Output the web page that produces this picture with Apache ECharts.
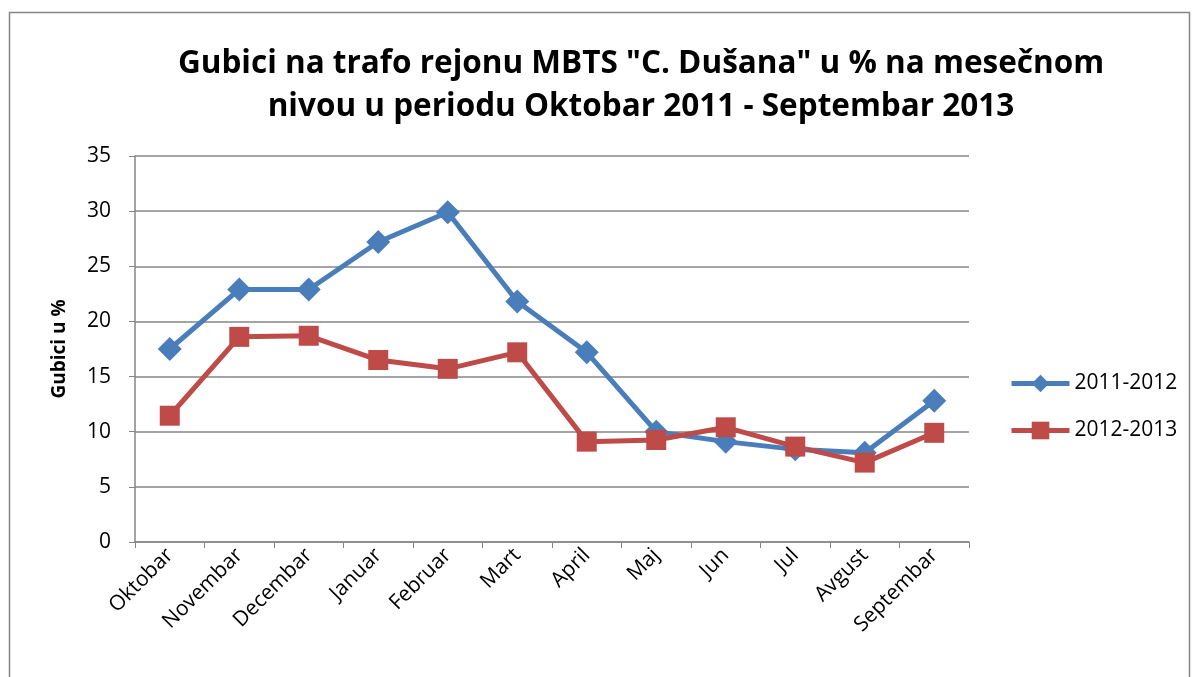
<!DOCTYPE html>
<html><head><meta charset="utf-8">
<script src="https://cdn.jsdelivr.net/npm/echarts@6/dist/echarts.min.js"></script>
<style>html,body{margin:0;padding:0;background:#fff}#c{width:1200px;height:677px}</style>
</head><body><div id="c"></div>
<script>
const categories = ["Oktobar","Novembar","Decembar","Januar","Februar","Mart","April","Maj","Jun","Jul","Avgust","Septembar"];
const s2011 = [17.5,22.9,22.9,27.2,29.9,21.8,17.2,10.0,9.1,8.4,8.1,12.8];
const s2012 = [11.45,18.6,18.7,16.5,15.7,17.2,9.1,9.25,10.4,8.65,7.2,9.9];
const seriesNames = ["2011-2012","2012-2013"];
const titleText = 'Gubici na trafo rejonu MBTS "C. Dušana" u % na mesečnom\nnivou u periodu Oktobar 2011 - Septembar 2013';
const yName = "Gubici u %";

const chart = echarts.init(document.getElementById('c'), null, {renderer:'canvas'});
const font = '"Open Sans", "Liberation Sans", sans-serif';
chart.setOption({
  animation:false,
  backgroundColor:'#fff',
  graphic:[{type:'rect',shape:{x:9.5,y:12.5,width:1180,height:670},style:{fill:'none',stroke:'#868686',lineWidth:1.5},silent:true}],
  title:{text:titleText,left:636,top:38,textAlign:'center',
    textStyle:{fontFamily:font,fontWeight:'bold',fontSize:31.5,lineHeight:43,color:'#000'}},
  legend:{orient:'vertical',left:1004,top:368,itemGap:26,itemWidth:58,itemHeight:22,
    lineStyle:{width:5},
    textStyle:{fontFamily:font,fontSize:21,color:'#000'},data:seriesNames},
  grid:{left:135,right:231,top:156,bottom:135,containLabel:false},
  xAxis:{type:'category',data:categories,boundaryGap:true,
    axisLine:{lineStyle:{color:'#868686',width:1.5}},
    axisTick:{show:true,length:6,lineStyle:{color:'#868686'}},
    axisLabel:{rotate:45,fontFamily:font,fontSize:21,color:'#000',margin:10,interval:0}},
  yAxis:{type:'value',min:0,max:35,interval:5,name:yName,nameLocation:'middle',nameGap:66,
    nameTextStyle:{fontFamily:font,fontWeight:'bold',fontSize:19,color:'#000'},
    axisLine:{show:true,lineStyle:{color:'#868686',width:1.5}},
    axisTick:{show:true,length:6,lineStyle:{color:'#868686'}},
    splitLine:{lineStyle:{color:'#868686',width:1.5}},
    axisLabel:{fontFamily:font,fontSize:21,color:'#000',margin:24}},
  series:[
    {name:seriesNames[0],type:'line',data:s2011,symbol:'diamond',symbolSize:24,
      lineStyle:{color:'#4A7EBB',width:5},itemStyle:{color:'#4A7EBB'}},
    {name:seriesNames[1],type:'line',data:s2012,symbol:'rect',symbolSize:20,
      lineStyle:{color:'#BE4B48',width:5},itemStyle:{color:'#BE4B48'}}
  ]
});
</script></body></html>
